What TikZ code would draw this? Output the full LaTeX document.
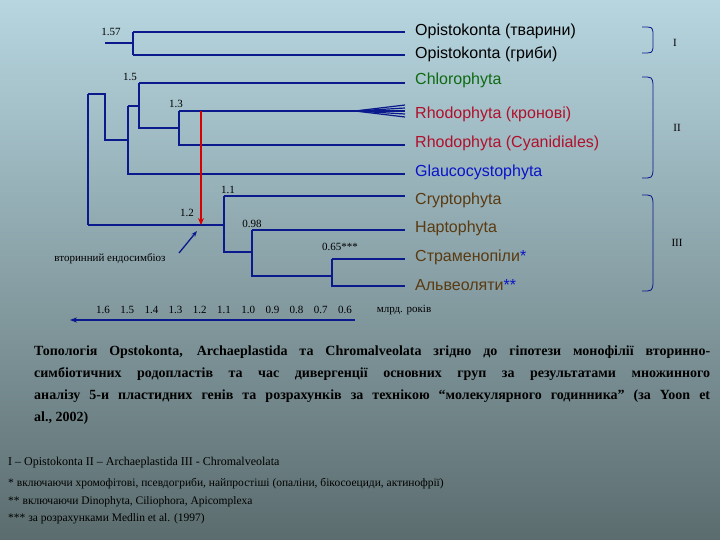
\documentclass[tikz,border=0pt]{standalone}
\usepackage{fontspec}
\setmainfont{Liberation Serif}
\newfontfamily\lab{Liberation Sans}
\usetikzlibrary{arrows.meta}
\definecolor{br}{HTML}{0A1A8C}
\definecolor{topc}{HTML}{B7D6E0}
\definecolor{botc}{HTML}{5B6C6E}
\definecolor{grn}{HTML}{0E6A10}
\definecolor{rd}{HTML}{B0102C}
\definecolor{bl}{HTML}{0A14C8}
\definecolor{brn}{HTML}{5A3A10}
\begin{document}
\begin{tikzpicture}[x=1pt,y=-1pt,
  br/.style={draw=br,line width=1.6pt},
  tax/.style={anchor=west,font=\lab\fontsize{16}{16}\selectfont,inner sep=0},
  num/.style={font=\fontsize{11}{11}\selectfont,inner sep=0},
  rom/.style={font=\fontsize{11}{11}\selectfont},
  brk/.style={draw=br,line width=0.8pt}]
\shade[top color=topc,bottom color=botc] (0,0) rectangle (720,540);
\useasboundingbox (0,0) rectangle (720,540);
% coordinates
\coordinate (root1) at (88,94); \coordinate (root2) at (88,225);
\coordinate (a1) at (105,94); \coordinate (a2) at (105,140);
\coordinate (o1) at (133,32); \coordinate (o2) at (133,55);
\coordinate (b1) at (128,106); \coordinate (b2) at (128,174);
\coordinate (c1) at (139,83); \coordinate (c2) at (139,128);
\coordinate (d1) at (179,111); \coordinate (d2) at (179,145);
\coordinate (e1) at (224,196); \coordinate (e2) at (224,252);
\coordinate (f1) at (252,230); \coordinate (f2) at (252,276);
\coordinate (g1) at (332,259); \coordinate (g2) at (332,286);
% taxa
\node[tax] (t1) at (415,31) {Opistokonta (тварини)};
\node[tax] (t2) at (415,54) {Opistokonta (гриби)};
\node[tax,text=grn] (t3) at (415,80) {Chlorophyta};
\node[tax,text=rd] (t4) at (415,114) {Rhodophyta (кронові)};
\node[tax,text=rd] (t5) at (415,143) {Rhodophyta (Cyanidiales)};
\node[tax,text=bl] (t6) at (415,172) {Glaucocystophyta};
\node[tax,text=brn] (t7) at (415,200) {Cryptophyta};
\node[tax,text=brn] (t8) at (415,228) {Haptophyta};
\node[tax,text=brn] (t9) at (415,257) {Страменопіли\textcolor{bl}{*}};
\node[tax,text=brn] (t10) at (415,285) {Альвеоляти\textcolor{bl}{**}};
% tree
\draw[br] (root1) -- (root2);
\draw[br] (root1) -- (a1) -- (a2) -- (b1 |- a2);
\draw[br] (a1 |- 0,43) -- (o1 |- 0,43);
\draw[br] (o1) -- (o2);
\draw[br] (o1) -- (405,32); \draw[br] (o2) -- (405,55);
\draw[br] (b1) -- (b2) -- (405,174);
\draw[br] (b1) -- (c1 |- b1);
\draw[br] (c1) -- (c2) -- (d1 |- c2);
\draw[br] (c1) -- (405,83);
\draw[br] (d1) -- (d2) -- (405,145);
\draw[br] (d1) -- (405,111);
\draw[br] (root2) -- (e1 |- root2);
\draw[br] (e1) -- (e2) -- (f1 |- e2);
\draw[br] (e1) -- (405,196);
\draw[br] (f1) -- (f2) -- (g1 |- f2);
\draw[br] (f1) -- (405,230);
\draw[br] (g1) -- (g2) -- (405,286);
\draw[br] (g1) -- (405,259);
% fan
\foreach \yy in {105,108,111,114,117} \draw[draw=br,line width=1.2pt] (355,111) -- (405,\yy);
% red arrow
\draw[draw=red!85!black,line width=2pt,-{Stealth[length=7pt,width=6pt]}] (201,111) -- (201,225);
% blue arrow
\node[num] (endo) at (110,259) {вторинний ендосимбіоз};
\draw[draw=br,line width=1.3pt,-{Stealth[length=6pt]}] (179,253) -- (197,231);
% node numbers
\node[num] at (111,32) {1.57};
\node[num] at (130,77) {1.5};
\node[num] at (176,104) {1.3};
\node[num] at (187,213) {1.2};
\node[num] at (228,190) {1.1};
\node[num] at (252,224) {0.98};
\node[num] at (340,247) {0.65***};
% axis
\foreach \v [count=\i from 0] in {1.6,1.5,1.4,1.3,1.2,1.1,1.0,0.9,0.8,0.7,0.6}
  \node[num] at ({103+24.2*\i},310) {\v};
\node[num] (mlrd) at (404,310) {млрд. років};
\coordinate (ax1) at (355,320); \coordinate (ax2) at (70,320);
\draw[draw=br,line width=1.3pt,-{Stealth[length=7pt]}] (ax1) -- (ax2);
% brackets
\draw[brk] (642,27) .. controls (652,27) .. (653,32) -- (653,48) .. controls (652,53) .. (642,53);
\draw[brk] (642,77) .. controls (652,77) .. (653,84) -- (653,171) .. controls (652,178) .. (642,178);
\draw[brk] (642,195) .. controls (652,195) .. (653,202) -- (653,284) .. controls (652,291) .. (642,291);
\node[rom] at (675,43) {I};
\node[rom] at (677,128) {II};
\node[rom] at (677,243) {III};
% caption
\node[anchor=north west,inner sep=0,text width=676pt,align=justify,font=\bfseries\fontsize{14}{22}\selectfont] (cap) at (34,346)
{Топологія Opstokonta, Archaeplastida та Chromalveolata згідно до гіпотези монофілії вторинно-\linebreak симбіотичних родопластів та час дивергенції основних груп за результатами множинного\linebreak аналізу 5-и пластидних генів та розрахунків за технікою “молекулярного годинника” (за Yoon et\linebreak al., 2002)};
\node[anchor=west,inner sep=0,font=\fontsize{12}{12}\selectfont] (l1) at (8,463) {I – Opistokonta II – Archaeplastida III - Chromalveolata};
\node[anchor=west,inner sep=0,font=\fontsize{11.5}{12}\selectfont] (l2) at (8,484) {* включаючи хромофітові, псевдогриби, найпростіші (опаліни, бікосоециди, актинофрії)};
\node[anchor=west,inner sep=0,font=\fontsize{11.5}{12}\selectfont] (l3) at (8,502) {** включаючи Dinophyta, Ciliophora, Apicomplexa};
\node[anchor=west,inner sep=0,font=\fontsize{11.5}{12}\selectfont] (l4) at (8,519) {*** за розрахунками Medlin et al. (1997)};
\end{tikzpicture}
\end{document}
